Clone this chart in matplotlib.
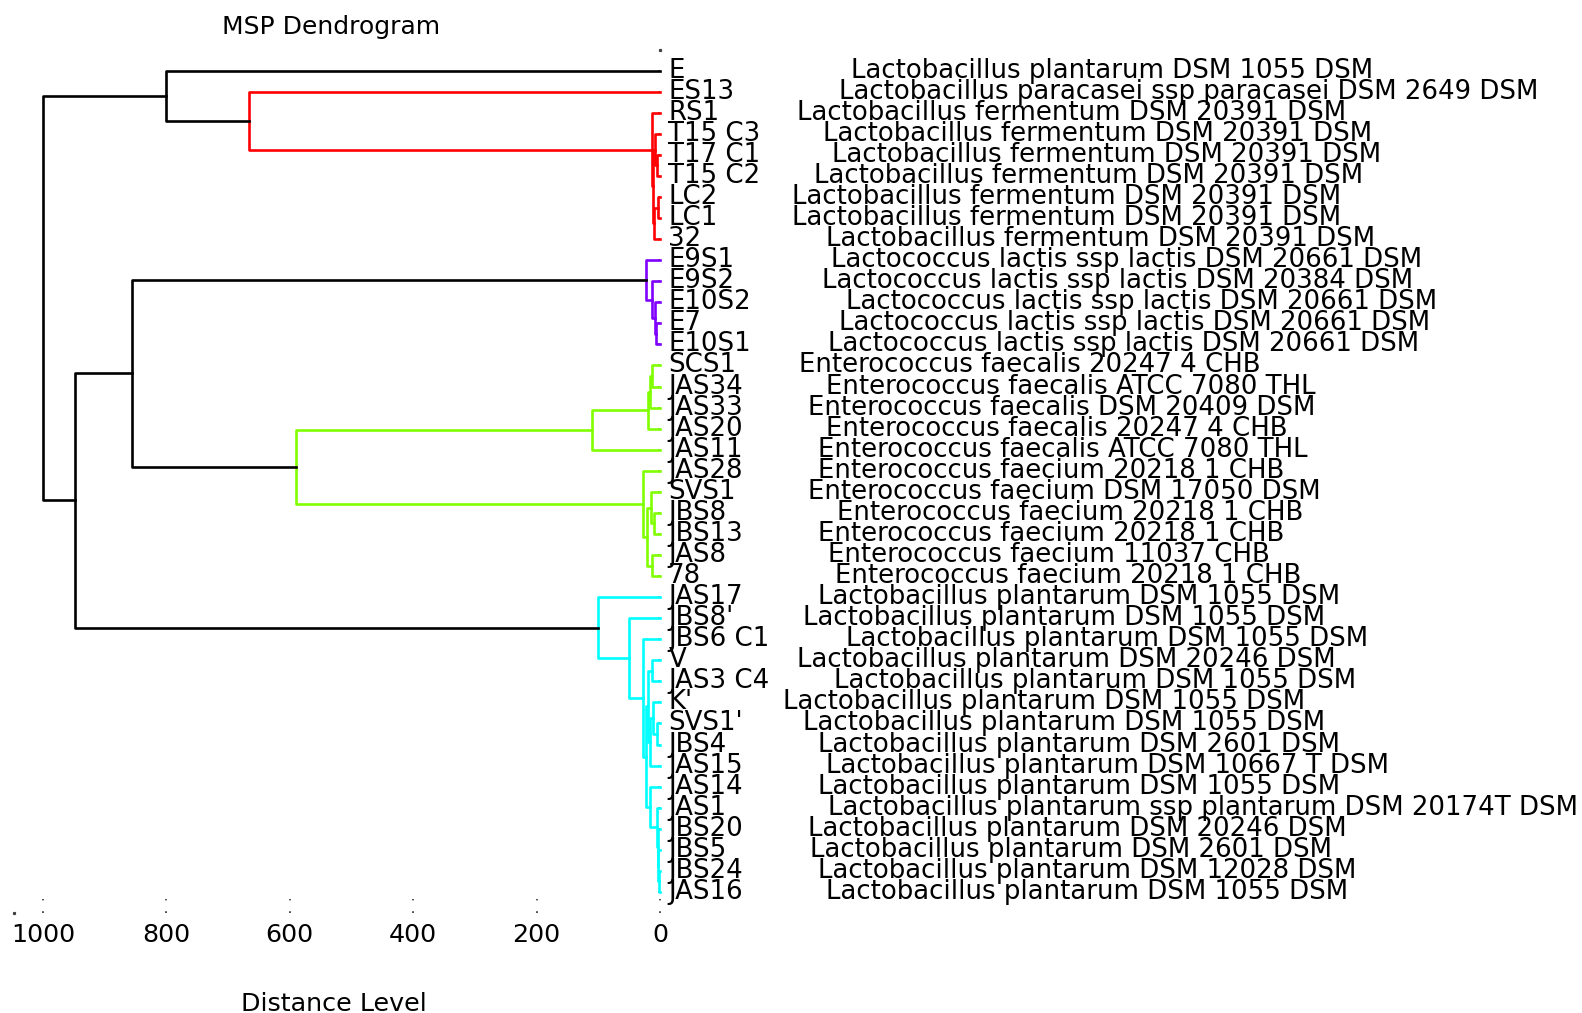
import matplotlib
matplotlib.use("Agg")
import matplotlib.pyplot as plt
import matplotlib.transforms as mtransforms

# ---------------- data ----------------
leaf_names = ["E", "ES13", "RS1", "T15 C3", "T17 C1", "T15 C2", "LC2", "LC1", "32",
              "E9S1", "E9S2", "E10S2", "E7", "E10S1",
              "SCS1", "JAS34", "JAS33", "JAS20", "JAS11",
              "JAS28", "SVS1", "JBS8", "JBS13", "JAS8", "78",
              "JAS17", "JBS8'", "JBS6 C1", "V", "JAS3 C4", "K'", "SVS1'", "JBS4", "JAS15",
              "JAS14", "JAS1", "JBS20", "JBS5", "JBS24", "JAS16"]

LP = "Lactobacillus plantarum DSM 1055 DSM"
LF = "Lactobacillus fermentum DSM 20391 DSM"
LL = "Lactococcus lactis ssp lactis DSM 20661 DSM"
species = [LP, "Lactobacillus paracasei ssp paracasei DSM 2649 DSM",
           LF, LF, LF, LF, LF, LF, LF,
           LL, "Lactococcus lactis ssp lactis DSM 20384 DSM", LL, LL, LL,
           "Enterococcus faecalis 20247 4 CHB", "Enterococcus faecalis ATCC 7080 THL",
           "Enterococcus faecalis DSM 20409 DSM", "Enterococcus faecalis 20247 4 CHB",
           "Enterococcus faecalis ATCC 7080 THL",
           "Enterococcus faecium 20218 1 CHB", "Enterococcus faecium DSM 17050 DSM",
           "Enterococcus faecium 20218 1 CHB", "Enterococcus faecium 20218 1 CHB",
           "Enterococcus faecium 11037 CHB", "Enterococcus faecium 20218 1 CHB",
           LP, LP, LP, "Lactobacillus plantarum DSM 20246 DSM", LP, LP, LP,
           "Lactobacillus plantarum DSM 2601 DSM", "Lactobacillus plantarum DSM 10667 T DSM",
           LP, "Lactobacillus plantarum ssp plantarum DSM 20174T DSM",
           "Lactobacillus plantarum DSM 20246 DSM", "Lactobacillus plantarum DSM 2601 DSM",
           "Lactobacillus plantarum DSM 12028 DSM", LP]

# linkage-style merges: (child a, child b, distance); new node ids start at 40
merges = [
    (4, 5, 5), (3, 40, 8), (6, 7, 3), (42, 8, 9), (41, 43, 11), (2, 44, 12.5),
    (1, 45, 666), (0, 46, 801),
    (12, 13, 6), (11, 48, 8), (10, 49, 12.5), (9, 50, 23),
    (14, 15, 12.5), (52, 16, 17), (53, 17, 20), (54, 18, 111),
    (21, 22, 10), (20, 56, 15), (23, 24, 13.5), (57, 58, 20.5), (19, 59, 27),
    (55, 60, 590),
    (51, 61, 856),
    (38, 39, 2), (37, 63, 3), (36, 64, 4), (35, 65, 5), (34, 66, 16),
    (31, 32, 5), (30, 68, 12), (69, 33, 16), (28, 29, 13.5), (71, 70, 19),
    (72, 67, 22.5), (27, 73, 27), (26, 74, 51), (25, 75, 100),
    (62, 76, 948),
    (47, 77, 1000),
]
cluster_of_merge = (["red"] * 7 + ["above"] + ["purple"] * 4 + ["green"] * 10 +
                    ["above"] + ["cyan"] * 14 + ["above", "above"])

x_ticks = [0, 200, 400, 600, 800, 1000]

# ---------------- layout / style ----------------
cluster_colors = {"red": "#FF0000", "purple": "#8000FF", "green": "#80FF00",
                  "cyan": "#00FFFF", "above": "#000000"}
species_left_px = [851, 839, 797, 823, 832, 814, 792, 792, 826, 831, 822, 846, 839, 828,
                   799, 826, 808, 826, 818, 818, 808, 837, 818, 828, 835, 818, 803, 846,
                   797, 834, 783, 803, 818, 826, 818, 828, 808, 810, 818, 826]

W, H = 1582, 1013
FS = 18.3
FS_LABEL = 18.7
plt.rcParams['font.family'] = ['DejaVu Sans']

fig = plt.figure(figsize=(W / 100, H / 100), dpi=100)
ax = fig.add_axes([14 / W, 1 - 913 / H, (660 - 14) / W, (913 - 49.6) / H])
n = len(leaf_names)
ax.set_xlim(1047, 0)
ax.set_ylim(n, -1)
for s in ax.spines.values():
    s.set_visible(False)
ax.set_yticks([])
ax.set_xticks(x_ticks)
ax.set_xticklabels([str(v) for v in x_ticks], fontsize=FS)
ax.tick_params(axis='x', length=0, pad=7)

# dotted tick marks
bt = mtransforms.blended_transform_factory(ax.transData, ax.transAxes)
tick_h = 14 / (913 - 49.6)
for v in x_ticks:
    ax.plot([v, v], [0, tick_h], transform=bt, ls=(0, (1, 6)), lw=1.3,
            color='0.25', zorder=1, clip_on=False)
ax.plot([1047], [0], transform=bt, marker='s', ms=1.3, color='0.25', ls='none', clip_on=False)
ax.plot([0], [1], transform=bt, marker='s', ms=1.3, color='0.25', ls='none', clip_on=False)
for i in range(n):
    ax.plot([0, 18], [i, i], ls=(0, (1, 6)), lw=1.3, color='0.35', zorder=1, clip_on=False)

# dendrogram links
pos = {i: (float(i), 0.0) for i in range(n)}
for k, (a, b, h) in enumerate(merges):
    ya, ha = pos[a]
    yb, hb = pos[b]
    ax.plot([ha, h, h, hb], [ya, ya, yb, yb], color=cluster_colors[cluster_of_merge[k]],
            lw=1.9, zorder=2, clip_on=False)
    pos[n + k] = ((ya + yb) / 2, h)

# leaf labels and species
for i in range(n):
    ax.annotate(leaf_names[i], xy=(0, i), xytext=(6, 0), textcoords='offset points',
                ha='left', va='center', fontsize=FS_LABEL, annotation_clip=False)
    ax.annotate(species[i], xy=(species_left_px[i] / W, i),
                xycoords=('figure fraction', 'data'),
                ha='left', va='center', fontsize=FS_LABEL, annotation_clip=False)

fig.text(331 / W, 1 - 34 / H, "MSP Dendrogram", ha='center', va='baseline', fontsize=18)
fig.text(334 / W, 1 - 1011 / H, "Distance Level", ha='center', va='baseline', fontsize=FS)

fig.savefig("out.png", dpi=100, facecolor='white')
